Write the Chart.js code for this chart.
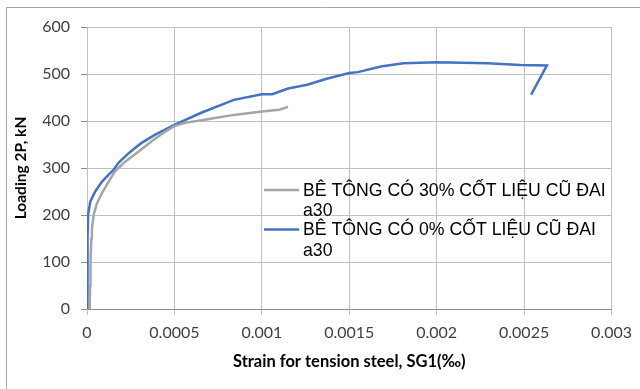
<!DOCTYPE html>
<html>
<head>
<meta charset="utf-8">
<script src="https://cdn.jsdelivr.net/npm/chart.js@4.4.1/dist/chart.umd.min.js"></script>
<style>
  html, body { margin: 0; padding: 0; background: #ffffff; }
  #wrap { width: 640px; height: 389px; position: relative; }
</style>
</head>
<body>
<div id="wrap"><canvas id="strainChart" width="640" height="389"></canvas></div>
<script>
// ── DADOS ──
const xTicks = [0, 0.0005, 0.001, 0.0015, 0.002, 0.0025, 0.003];
const yTicks = [0, 100, 200, 300, 400, 500, 600];

// Série 1: concreto com 30% de agregado reciclado
const label30 = ['BÊ TÔNG CÓ 30% CỐT LIỆU CŨ ĐAI', 'a30'];
const strain30 = [0.000015, 0.000018, 0.00002, 0.000025, 0.000028, 0.000038, 0.000057, 0.000086,
  0.000124, 0.00016, 0.00022, 0.000295, 0.00037, 0.00045, 0.0005, 0.00056, 0.00068,
  0.00084, 0.001, 0.0011, 0.00115];
const load30 = [0, 50, 100, 150, 170, 200, 225, 247,
  271, 293, 314, 335, 357, 378, 389, 396, 403,
  413, 420, 424, 430];

// Série 2: concreto com 0% de agregado reciclado
const label0 = ['BÊ TÔNG CÓ 0% CỐT LIỆU CŨ ĐAI', 'a30'];
const strain0 = [0.000004, 0.000004, 0.000003, 0.000002, 0.000006, 0.000019, 0.000047, 0.000086,
  0.000124, 0.000152, 0.00018, 0.00024, 0.00031, 0.00039, 0.0005, 0.00065, 0.00084,
  0.001, 0.00106, 0.00115, 0.00126, 0.00137, 0.0015, 0.00155, 0.00168, 0.00181,
  0.002, 0.00229, 0.00248, 0.00263, 0.00254];
const load0 = [0, 50, 100, 150, 200, 229, 250, 271,
  286, 296, 311, 332, 353, 371, 392, 417, 445,
  457, 457, 469, 477, 490, 502, 504, 516, 523,
  525, 523, 519, 518, 456];

const toPoints = (xs, ys) => xs.map((x, i) => ({ x: x, y: ys[i] }));

// Moldura do gráfico (só as bordas esquerda e superior aparecem no recorte)
const framePlugin = {
  id: 'frame',
  beforeDraw(chart) {
    const ctx = chart.ctx;
    ctx.save();
    ctx.strokeStyle = '#a6a6a6';
    ctx.lineWidth = 1;
    ctx.beginPath();
    ctx.moveTo(6.5, 389);
    ctx.lineTo(6.5, 7.5);
    ctx.lineTo(640, 7.5);
    ctx.stroke();
    ctx.restore();
  }
};

// Legenda com quebra de linha, desenhada dentro da área do gráfico
const legendPlugin = {
  id: 'wrapLegend',
  afterDatasetsDraw(chart) {
    const ctx = chart.ctx;
    ctx.save();
    ctx.font = '17.7px "Liberation Sans", Arial, sans-serif';
    ctx.textBaseline = 'middle';
    ctx.fillStyle = '#000000';
    chart.data.datasets.forEach((ds, i) => {
      const y = 190 + i * 39.5;
      ctx.strokeStyle = ds.borderColor;
      ctx.lineWidth = 2.5;
      ctx.beginPath();
      ctx.moveTo(264, y);
      ctx.lineTo(299, y);
      ctx.stroke();
      ds.label.forEach((line, j) => {
        ctx.fillText(line, 303, y + 1 + j * 20.5);
      });
    });
    ctx.restore();
  }
};

function renderizarGrafico() {
  const ctx = document.getElementById('strainChart');
  new Chart(ctx, {
    type: 'scatter',
    data: {
      datasets: [
        {
          label: label30,
          data: toPoints(strain30, load30),
          borderColor: '#a5a5a5',
          backgroundColor: '#a5a5a5',
          borderWidth: 2.5,
          showLine: true,
          pointRadius: 0,
          tension: 0
        },
        {
          label: label0,
          data: toPoints(strain0, load0),
          borderColor: '#4472c4',
          backgroundColor: '#4472c4',
          borderWidth: 2.5,
          showLine: true,
          pointRadius: 0,
          tension: 0
        }
      ]
    },
    options: {
      responsive: false,
      animation: false,
      devicePixelRatio: 1,
      layout: { padding: { top: 27, right: 28, left: 0, bottom: 0 } },
      plugins: {
        legend: { display: false },
        tooltip: { enabled: false }
      },
      scales: {
        x: {
          type: 'linear',
          min: 0,
          max: 0.003,
          afterFit: s => { s.height = 80; },
          afterBuildTicks: s => { s.ticks = xTicks.map(v => ({ value: v })); },
          grid: { color: '#bfbfbf', tickLength: 6, tickColor: '#bfbfbf' },
          border: { color: '#8c8c8c' },
          ticks: {
            padding: 8,
            color: '#404040',
            font: { family: 'Lato', size: 16 },
            callback: v => String(v)
          },
          title: {
            display: true,
            text: 'Strain for tension steel, SG1(‰)',
            color: '#000000',
            font: { family: 'Lato', size: 16.5, weight: 'bold' },
            padding: { top: 0, bottom: 17 }
          }
        },
        y: {
          min: 0,
          max: 600,
          afterFit: s => { s.width = 87; },
          afterBuildTicks: s => { s.ticks = yTicks.map(v => ({ value: v })); },
          grid: { color: '#bfbfbf', tickLength: 6, tickColor: '#8c8c8c' },
          border: { color: '#bfbfbf' },
          ticks: {
            padding: 11,
            color: '#404040',
            font: { family: 'Lato', size: 16 }
          },
          title: {
            display: true,
            text: 'Loading 2P, kN',
            color: '#000000',
            font: { family: 'Lato', size: 15.5, weight: 'bold' },
            padding: { top: 12, bottom: 0 }
          }
        }
      }
    },
    plugins: [framePlugin, legendPlugin]
  });
}

document.addEventListener('DOMContentLoaded', renderizarGrafico);
</script>
</body>
</html>
